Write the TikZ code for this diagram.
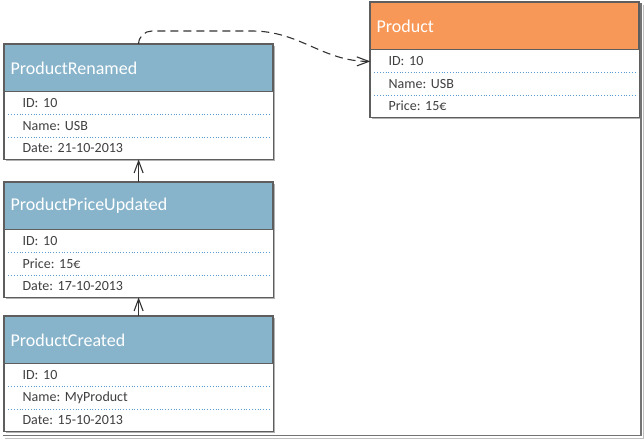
\documentclass[tikz,border=0pt]{standalone}
\usepackage{fontspec}
\setmainfont{Carlito}
\frenchspacing
\usetikzlibrary{positioning, arrows.meta, fit, backgrounds, shadows}

\definecolor{eventblue}{HTML}{87B4CB}
\definecolor{stateorange}{HTML}{F89858}
\definecolor{framegray}{HTML}{5E5E5E}
\definecolor{rowline}{HTML}{5B9BD5}
\definecolor{fieldtext}{HTML}{404040}

\tikzset{
    header/.style={draw=framegray, line width=1.2pt, fill=eventblue, text=white, anchor=north west,
        font=\fontsize{18}{21}\selectfont, text width=256pt, align=left,
        inner xsep=6pt, inner ysep=0pt, minimum height=47pt},
    field/.style={text=fieldtext, font=\fontsize{14}{16}\selectfont, text width=232pt, align=left,
        inner xsep=18pt, inner ysep=0pt, minimum height=22pt},
    frame/.style={draw=framegray, line width=1.2pt, fill=white, inner sep=0pt,
        drop shadow={shadow xshift=2pt, shadow yshift=-2pt, fill=black, opacity=.3}},
    rowsep/.style={rowline, line width=.8pt, dotted},
    flow/.style={draw=black!80, line width=1.1pt, -{Straight Barb[length=12pt, width=9pt]}}
}

\begin{document}
\begin{tikzpicture}[x=1pt, y=-1pt]
    \useasboundingbox (0, 0) rectangle (644, 439);

    % ProductRenamed
    \node (hRenamed) [header] at (4, 44) {ProductRenamed};
    \node (rId) [field, below=0pt of hRenamed] {ID: 10};
    \node (rName) [field, below=0pt of rId] {Name: USB};
    \node (rDate) [field, below=0pt of rName] {Date: 21-10-2013};

    % ProductPriceUpdated
    \node (hPrice) [header] at (4, 182) {ProductPriceUpdated};
    \node (uId) [field, below=0pt of hPrice] {ID: 10};
    \node (uPrice) [field, below=0pt of uId] {Price: 15€};
    \node (uDate) [field, below=0pt of uPrice] {Date: 17-10-2013};

    % ProductCreated
    \node (hCreated) [header] at (4, 316) {ProductCreated};
    \node (cId) [field, below=0pt of hCreated] {ID: 10};
    \node (cName) [field, below=0pt of cId] {Name: MyProduct};
    \node (cDate) [field, below=0pt of cName] {Date: 15-10-2013};

    % Product
    \node (hProduct) [header, fill=stateorange] at (370, 2) {Product};
    \node (pId) [field, below=0pt of hProduct] {ID: 10};
    \node (pName) [field, below=0pt of pId] {Name: USB};
    \node (pPrice) [field, below=0pt of pName] {Price: 15€};

    \begin{scope}[on background layer]
        \node [frame, fit=(hRenamed)(rDate)] {};
        \node [frame, fit=(hPrice)(uDate)] {};
        \node [frame, fit=(hCreated)(cDate)] {};
        \node [frame, fit=(hProduct)(pPrice)] {};
    \end{scope}

    \foreach \row in {rId, rName, uId, uPrice, cId, cName, pId, pName}
        \draw [rowsep] ([xshift=4pt]\row.south west) -- ([xshift=-2pt]\row.south east);

    \draw [flow] (hPrice.north) -- (rDate.south);
    \draw [flow] (hCreated.north) -- (uDate.south);

    \coordinate (dashA) at (152, 31);
    \coordinate (dashB) at (252, 31);
    \draw [flow, dash pattern=on 8pt off 5pt] (hRenamed.north) to[out=90, in=180] (dashA) -- (dashB)
        to[out=0, in=180] (pId.west);

    % picture frame
    \draw [black!55, line width=1.5pt] (641, 3) -- (641, 435.5) -- (3, 435.5);
    \draw [black!25, line width=1pt] (643, 5) -- (643, 438) -- (5, 438);
\end{tikzpicture}
\end{document}
